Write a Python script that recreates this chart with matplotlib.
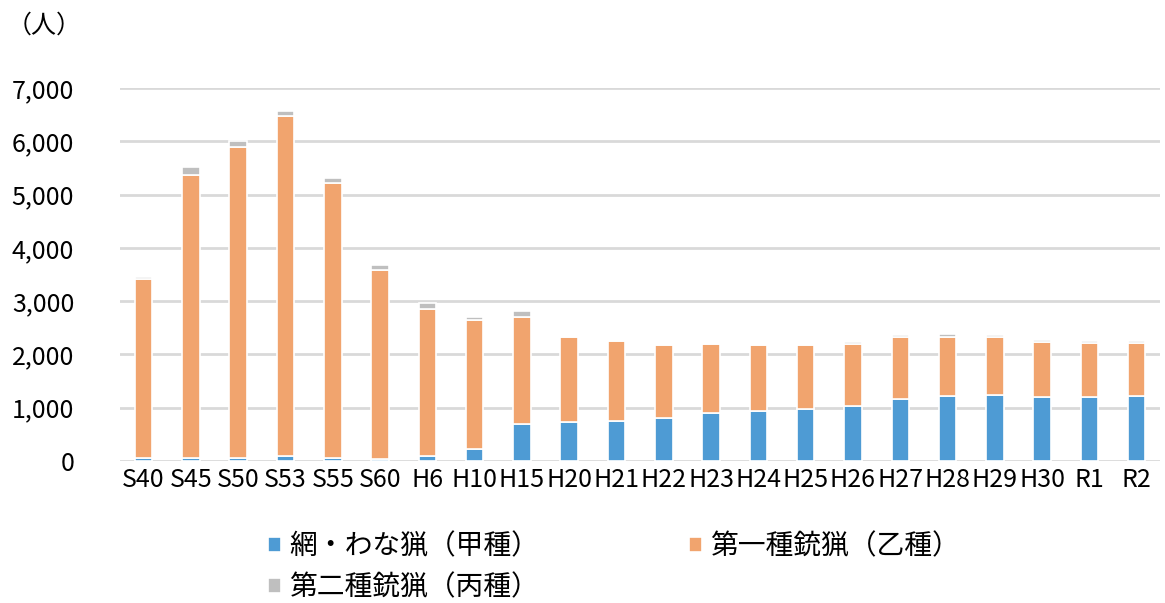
import numpy as np
import matplotlib
matplotlib.use("Agg")
import matplotlib.pyplot as plt

plt.rcParams["font.family"] = ["Noto Sans CJK JP", "DejaVu Sans"]

years = ["S40", "S45", "S50", "S53", "S55", "S60", "H6", "H10", "H15", "H20", "H21",
         "H22", "H23", "H24", "H25", "H26", "H27", "H28", "H29", "H30", "R1", "R2"]

# 網・わな猟（甲種）
net_trap = [50, 55, 60, 90, 55, 40, 100, 225, 690, 740, 750,
            800, 895, 930, 970, 1040, 1160, 1220, 1240, 1195, 1210, 1225]
# 第一種銃猟（乙種）
gun_first = [3365, 5310, 5835, 6390, 5165, 3545, 2755, 2415, 2015, 1590, 1505,
             1380, 1310, 1250, 1200, 1160, 1160, 1110, 1080, 1045, 1000, 985]
# 第二種銃猟（丙種）
gun_second = [45, 150, 105, 90, 100, 95, 115, 65, 105, 8, 8,
              8, 8, 8, 8, 30, 40, 50, 40, 32, 40, 40]

labels = ["網・わな猟（甲種）", "第一種銃猟（乙種）", "第二種銃猟（丙種）"]
colors = ["#4e9bd4", "#f1a46e", "#bfbfbf"]

x = np.arange(len(years))
net = np.array(net_trap)
g1 = np.array(gun_first)
g2 = np.array(gun_second)

fig = plt.figure(figsize=(11.65, 6.03), dpi=100)
ax = fig.add_axes([0.103, 0.2355, 0.893, 0.6185])

w = 0.37
b1 = ax.bar(x, net, w, color=colors[0], edgecolor="white", linewidth=1.2, zorder=3)
b2 = ax.bar(x, g1, w, bottom=net, color=colors[1], edgecolor="white", linewidth=1.2, zorder=3)
b3 = ax.bar(x, g2, w, bottom=net + g1, color=colors[2], edgecolor="white", linewidth=1.2, zorder=3)

ax.set_xlim(-0.5, len(years) - 0.5)
ax.set_ylim(0, 7000)
ax.set_yticks(range(0, 7001, 1000))
ax.set_yticklabels([f"{v:,}" for v in range(0, 7001, 1000)], fontsize=18)
ax.set_xticks(x)
ax.set_xticklabels(years, fontsize=18)
ax.grid(axis="y", color="#d9d9d9", linewidth=2, zorder=0)
for s in ax.spines.values():
    s.set_visible(False)
ax.tick_params(length=0)
ax.tick_params(axis="y", pad=33)
ax.tick_params(axis="x", pad=4)

fig.text(0.006, 0.958, "（人）", fontsize=18, va="center")

fig.legend([b1, b3, b2], [labels[0], labels[2], labels[1]], ncol=2,
           loc="lower left", bbox_to_anchor=(0.209, -0.04), frameon=False,
           fontsize=20, handlelength=0.45, handleheight=0.45, handletextpad=0.3,
           columnspacing=5.4, labelspacing=0.38)

fig.savefig("out.png", dpi=100)
